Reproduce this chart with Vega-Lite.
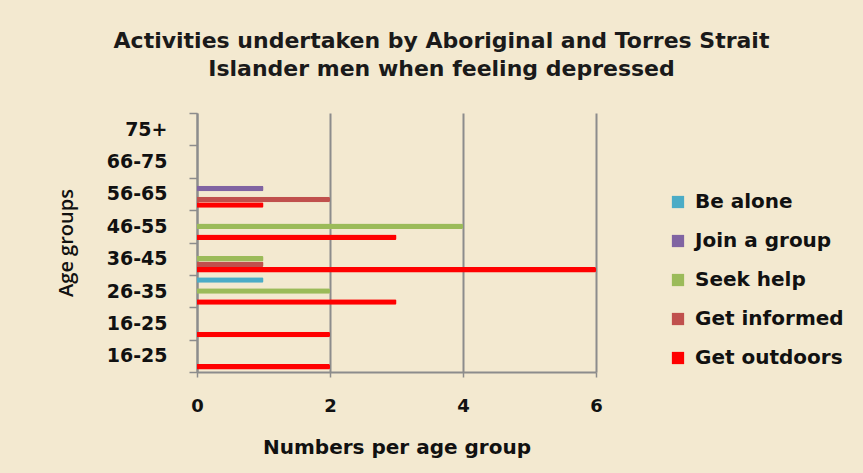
{
  "$schema": "https://vega.github.io/schema/vega-lite/v6.json",
  "width": 399,
  "height": 259,
  "autosize": {"type": "none"},
  "padding": {"left": 197, "top": 113, "right": 267, "bottom": 101},
  "background": "#f3e9d0",
  "title": {
    "text": ["Activities undertaken by Aboriginal and Torres Strait", "Islander men when feeling depressed"],
    "font": "DejaVu Sans",
    "fontSize": 22,
    "fontWeight": "bold",
    "color": "#1a1a1a",
    "anchor": "middle",
    "dx": 45,
    "offset": 23,
    "lineHeight": 28
  },
  "data": {
    "values": [
      {"age": "16-25b", "activity": "Get outdoors", "n": 2},
      {"age": "16-25a", "activity": "Get outdoors", "n": 2},
      {"age": "26-35", "activity": "Get outdoors", "n": 3},
      {"age": "26-35", "activity": "Seek help", "n": 2},
      {"age": "26-35", "activity": "Be alone", "n": 1},
      {"age": "36-45", "activity": "Get outdoors", "n": 6},
      {"age": "36-45", "activity": "Get informed", "n": 1},
      {"age": "36-45", "activity": "Seek help", "n": 1},
      {"age": "46-55", "activity": "Get outdoors", "n": 3},
      {"age": "46-55", "activity": "Seek help", "n": 4},
      {"age": "56-65", "activity": "Get outdoors", "n": 1},
      {"age": "56-65", "activity": "Get informed", "n": 2},
      {"age": "56-65", "activity": "Join a group", "n": 1}
    ]
  },
  "mark": {"type": "bar", "cornerRadiusEnd": 1.5},
  "encoding": {
    "y": {
      "field": "age",
      "type": "nominal",
      "scale": {
        "domain": ["75+", "66-75", "56-65", "46-55", "36-45", "26-35", "16-25a", "16-25b"],
        "paddingInner": 0,
        "paddingOuter": 0
      },
      "axis": {
        "title": "Age groups",
        "titleFont": "Open Sans",
        "titleFontSize": 20,
        "titleFontWeight": 600,
        "titleColor": "#111111",
        "titlePadding": 30,
        "labelExpr": "isValid(datum.value) ? replace(datum.value, /[ab]$/, '') : ''",
        "labelFont": "DejaVu Sans",
        "labelFontSize": 19,
        "labelFontWeight": "bold",
        "labelColor": "#111111",
        "labelPadding": 22,
        "tickSize": 8,
        "tickBand": "extent",
        "tickColor": "#8c8c8c",
        "tickWidth": 1.5,
        "domainColor": "#8c8c8c",
        "domainWidth": 2,
        "grid": false
      }
    },
    "yOffset": {
      "field": "activity",
      "type": "nominal",
      "scale": {
        "domain": ["Be alone", "Join a group", "Seek help", "Get informed", "Get outdoors"],
        "paddingInner": 0,
        "paddingOuter": 0.45
      }
    },
    "x": {
      "field": "n",
      "type": "quantitative",
      "scale": {"domain": [0, 6], "nice": false},
      "axis": {
        "title": "Numbers per age group",
        "titleFont": "DejaVu Sans",
        "titleFontSize": 20,
        "titleFontWeight": "bold",
        "titleColor": "#111111",
        "titlePadding": 22,
        "values": [0, 2, 4, 6],
        "format": "d",
        "labelFlush": false,
        "labelFont": "DejaVu Sans",
        "labelFontSize": 18,
        "labelFontWeight": "bold",
        "labelColor": "#111111",
        "labelPadding": 20,
        "tickSize": 5,
        "tickColor": "#8c8c8c",
        "tickWidth": 1.5,
        "domainColor": "#8c8c8c",
        "domainWidth": 2,
        "grid": true,
        "gridColor": "#8c8c8c",
        "gridWidth": 2
      }
    },
    "color": {
      "field": "activity",
      "type": "nominal",
      "scale": {
        "domain": ["Be alone", "Join a group", "Seek help", "Get informed", "Get outdoors"],
        "range": ["#4bacc6", "#8064a2", "#9bbb59", "#c0504d", "#ff0000"]
      },
      "legend": {
        "title": null,
        "orient": "none",
        "legendX": 471,
        "legendY": 79,
        "padding": 0,
        "symbolType": "square",
        "symbolSize": 150,
        "symbolStrokeWidth": 0,
        "symbolOpacity": 1,
        "labelFont": "DejaVu Sans",
        "labelFontSize": 20,
        "labelFontWeight": "bold",
        "labelColor": "#111111",
        "labelOffset": 7,
        "rowPadding": 19
      }
    }
  },
  "config": {
    "view": {"stroke": null}
  }
}
